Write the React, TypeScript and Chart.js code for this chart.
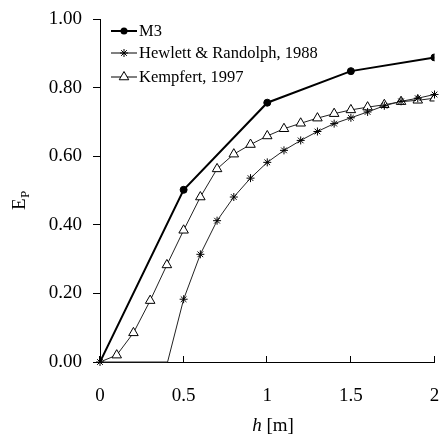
import React, { useEffect, useRef } from "react";
import { Chart, registerables } from "chart.js";

Chart.register(...registerables);

// ---- data ----
const xTickValues = [0, 0.5, 1, 1.5, 2];
const yTickValues = [0, 0.2, 0.4, 0.6, 0.8, 1.0];

const seriesNames = ["M3", "Hewlett & Randolph, 1988", "Kempfert, 1997"];

const m3H = [0, 0.5, 1.0, 1.5, 2.0];
const m3E = [0, 0.502, 0.756, 0.848, 0.888];

const hrH = [0, 0.404, 0.5, 0.6, 0.7, 0.8, 0.9, 1.0, 1.1, 1.2, 1.3, 1.4, 1.5, 1.6, 1.7, 1.8, 1.9, 2.0];
const hrE = [0, 0, 0.183, 0.314, 0.412, 0.481, 0.536, 0.582, 0.617, 0.646, 0.672, 0.695, 0.712, 0.729, 0.747, 0.76, 0.769, 0.78];
const hrMarker = [true, false, true, true, true, true, true, true, true, true, true, true, true, true, true, true, true, true];

const kfH = [0, 0.1, 0.2, 0.3, 0.4, 0.5, 0.6, 0.7, 0.8, 0.9, 1.0, 1.1, 1.2, 1.3, 1.4, 1.5, 1.6, 1.7, 1.8, 1.9, 2.0];
const kfE = [0, 0.02, 0.085, 0.179, 0.283, 0.384, 0.481, 0.563, 0.606, 0.634, 0.659, 0.68, 0.696, 0.711, 0.724, 0.735, 0.743, 0.75, 0.759, 0.763, 0.769];

const xTitleItalic = "h";
const xTitleRest = " [m]";
const yTitleMain = "E";
const yTitleSub = "P";

const FONT = "'Liberation Serif', 'Times New Roman', serif";

const pts = (xs: number[], ys: number[]) => xs.map((x, i) => ({ x, y: ys[i] }));

function drawMarker(ctx: CanvasRenderingContext2D, style: string, x: number, y: number, r: number) {
  ctx.save();
  ctx.strokeStyle = "#000";
  ctx.lineWidth = 1;
  if (style === "circle") {
    ctx.fillStyle = "#000";
    ctx.beginPath();
    ctx.arc(x, y, r, 0, Math.PI * 2);
    ctx.fill();
  } else if (style === "star") {
    ctx.beginPath();
    for (let k = 0; k < 4; k++) {
      const a = (k * Math.PI) / 4;
      ctx.moveTo(x - Math.cos(a) * r, y - Math.sin(a) * r);
      ctx.lineTo(x + Math.cos(a) * r, y + Math.sin(a) * r);
    }
    ctx.stroke();
  } else if (style === "triangle") {
    ctx.fillStyle = "#fff";
    ctx.beginPath();
    ctx.moveTo(x, y - r);
    ctx.lineTo(x + r * Math.sin((2 * Math.PI) / 3), y - r * Math.cos((2 * Math.PI) / 3));
    ctx.lineTo(x + r * Math.sin((4 * Math.PI) / 3), y - r * Math.cos((4 * Math.PI) / 3));
    ctx.closePath();
    ctx.fill();
    ctx.stroke();
  }
  ctx.restore();
}

const decorPlugin = {
  id: "decor",
  afterDraw(chart: any) {
    const ctx: CanvasRenderingContext2D = chart.ctx;
    const xs = chart.scales.x;
    const area = chart.chartArea;
    ctx.save();
    // inward x ticks
    ctx.strokeStyle = "#000";
    ctx.lineWidth = 1;
    ctx.beginPath();
    xTickValues.forEach((v) => {
      const px = Math.round(xs.getPixelForValue(v)) - 0.5;
      ctx.moveTo(px, area.bottom);
      ctx.lineTo(px, area.bottom - 6);
    });
    ctx.stroke();

    // legend
    const styles = ["circle", "star", "triangle"];
    const radii = [3.5, 4, 5.5];
    const widths = [2, 1, 1];
    const rows = [31, 53, 77];
    ctx.font = `16.5px ${FONT}`;
    ctx.textBaseline = "middle";
    ctx.fillStyle = "#000";
    seriesNames.forEach((name, i) => {
      const y = rows[i];
      ctx.beginPath();
      ctx.lineWidth = widths[i];
      ctx.moveTo(111, y);
      ctx.lineTo(137, y);
      ctx.stroke();
      drawMarker(ctx, styles[i], 124, y, radii[i]);
      ctx.fillStyle = "#000";
      ctx.fillText(name, 139, y + 1);
    });

    // x title
    ctx.textBaseline = "alphabetic";
    ctx.font = `italic 19px ${FONT}`;
    const w1 = ctx.measureText(xTitleItalic).width;
    ctx.font = `19px ${FONT}`;
    const w2 = ctx.measureText(xTitleRest).width;
    const cx = 273;
    const sx = cx - (w1 + w2) / 2;
    ctx.font = `italic 19px ${FONT}`;
    ctx.fillText(xTitleItalic, sx, 431);
    ctx.font = `19px ${FONT}`;
    ctx.fillText(xTitleRest, sx + w1, 431);

    // y title (rotated)
    ctx.translate(25, 210);
    ctx.rotate(-Math.PI / 2);
    ctx.font = `19px ${FONT}`;
    ctx.textAlign = "left";
    ctx.fillText(yTitleMain, 0, 0);
    const we = ctx.measureText(yTitleMain).width;
    ctx.font = `13px ${FONT}`;
    ctx.fillText(yTitleSub, we + 0.5, 4);
    ctx.restore();
  },
};

export default function App() {
  const ref = useRef<HTMLCanvasElement | null>(null);
  useEffect(() => {
    if (!ref.current) return;
    const chart = new Chart(ref.current, {
      type: "line",
      data: {
        datasets: [
          {
            label: seriesNames[0],
            data: pts(m3H, m3E),
            borderColor: "#000",
            backgroundColor: "#000",
            borderWidth: 2,
            pointStyle: "circle",
            pointRadius: m3H.map((h) => (h === 0 ? 0 : 3.5)),
            pointBorderWidth: 1,
            pointBackgroundColor: "#000",
            pointBorderColor: "#000",
            tension: 0,
          },
          {
            label: seriesNames[1],
            data: pts(hrH, hrE),
            borderColor: "#222",
            borderWidth: 1,
            pointStyle: "star",
            pointRadius: hrMarker.map((m) => (m ? 4 : 0)),
            pointBorderWidth: 1,
            pointBorderColor: "#000",
            pointBackgroundColor: "#000",
            tension: 0,
            clip: false as any,
          },
          {
            label: seriesNames[2],
            data: pts(kfH, kfE),
            borderColor: "#222",
            borderWidth: 1,
            pointStyle: "triangle",
            pointRadius: kfH.map((h) => (h === 0 ? 0 : 5.5)),
            pointBorderWidth: 1,
            pointBorderColor: "#000",
            pointBackgroundColor: "#fff",
            tension: 0,
          },
        ],
      },
      options: {
        animation: false,
        responsive: false,
        maintainAspectRatio: false,
        events: [],
        layout: { padding: { top: 19, right: 3, left: 0, bottom: 0 } },
        plugins: { legend: { display: false }, tooltip: { enabled: false } },
        scales: {
          x: {
            type: "linear",
            min: 0,
            max: 2,
            afterBuildTicks: (s: any) => {
              s.ticks = xTickValues.map((v) => ({ value: v }));
            },
            afterFit: (s: any) => {
              s.height = 77;
              s.paddingLeft = 0;
              s.paddingRight = 0;
            },
            grid: { display: true, drawOnChartArea: false, drawTicks: false, color: "#000" },
            border: { display: true, color: "#000", width: 1 },
            ticks: {
              padding: 23,
              color: "#000",
              font: { family: FONT, size: 19 },
              maxRotation: 0,
              autoSkip: false,
              callback: (v: any) => String(v),
            },
          },
          y: {
            type: "linear",
            min: 0,
            max: 1,
            afterBuildTicks: (s: any) => {
              s.ticks = yTickValues.map((v) => ({ value: v }));
            },
            afterFit: (s: any) => {
              s.width = 100;
              s.paddingTop = 0;
              s.paddingBottom = 0;
            },
            grid: { display: true, drawOnChartArea: false, drawTicks: true, tickLength: 7, color: "#000" },
            border: { display: true, color: "#000", width: 1 },
            ticks: {
              padding: 11,
              color: "#000",
              font: { family: FONT, size: 19 },
              autoSkip: false,
              callback: (v: any) => Number(v).toFixed(2),
            },
          },
        },
      },
      plugins: [decorPlugin],
    } as any);
    return () => chart.destroy();
  }, []);
  return (
    <div style={{ position: "fixed", left: 0, top: 0, width: 441, height: 439, background: "#fff" }}>
      <canvas ref={ref} width={441} height={439} style={{ width: 441, height: 439, display: "block" }} />
    </div>
  );
}
